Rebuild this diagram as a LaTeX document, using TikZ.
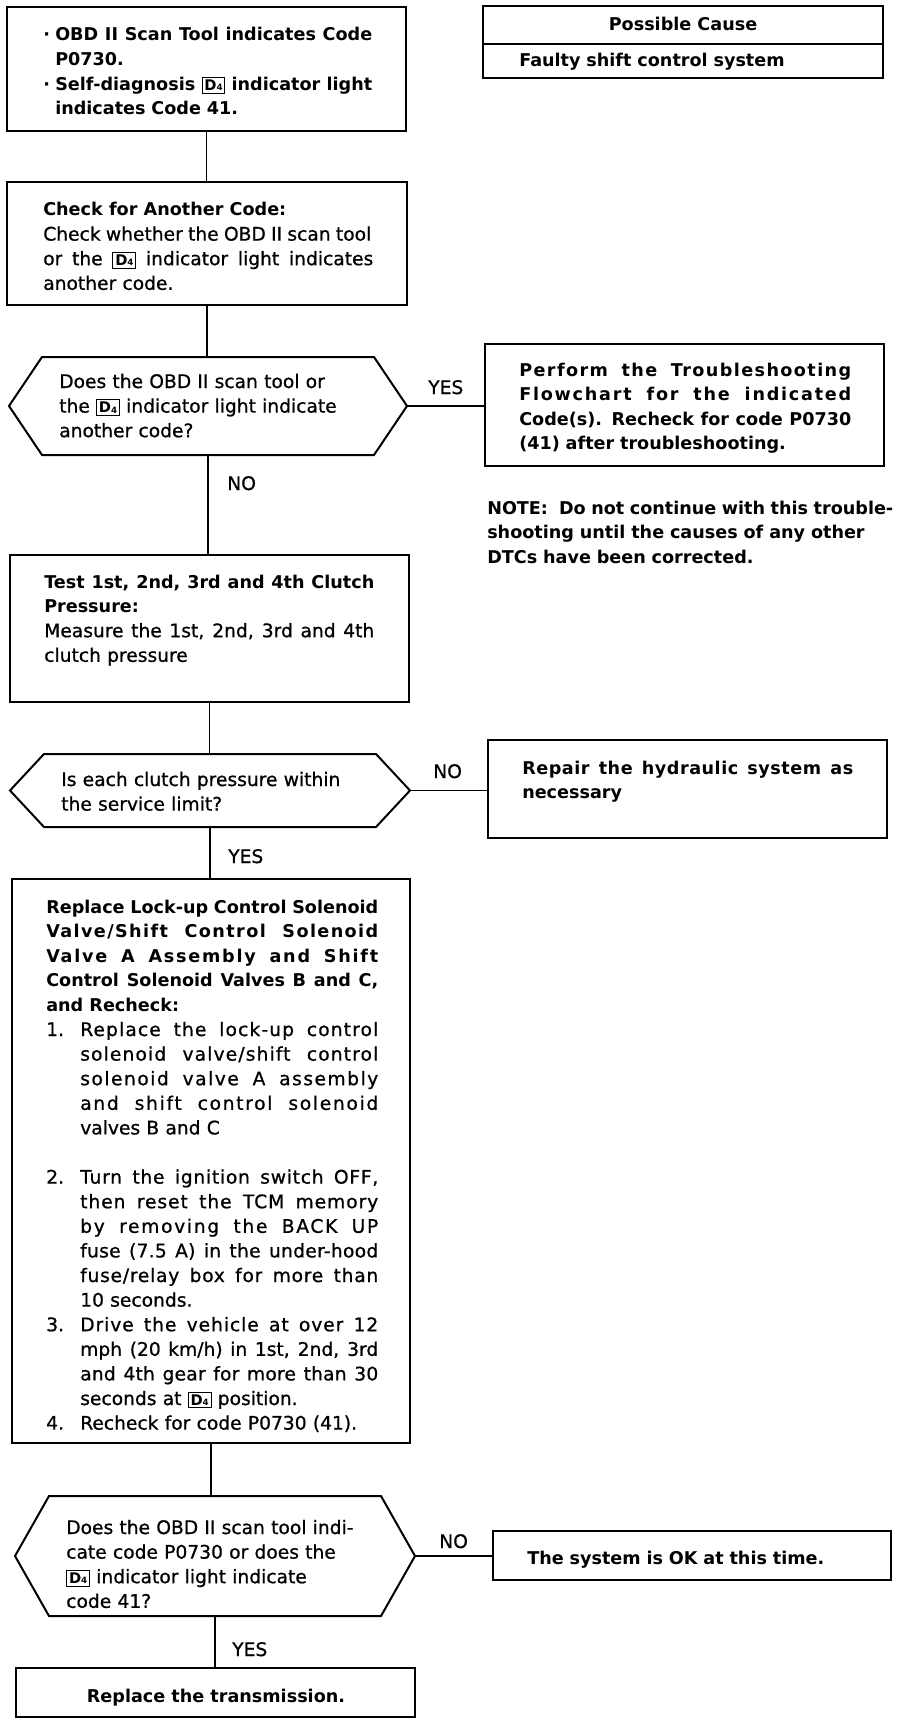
\documentclass[tikz,border=0pt]{standalone}
\usepackage{fontspec}
\setmainfont{DejaVu Sans}
\newfontfamily\medfam{DejaVu Sans}[FakeBold=0.8]
\usetikzlibrary{calc}
\newlength\pxu \setlength\pxu{0.75pt}
\newcommand\rf{\medfam\fontsize{14}{18.45}\selectfont}
\newcommand\bff{\normalfont\fontsize{13.2}{18.45}\selectfont\bfseries}
\newcommand\Dbox{{\setlength\fboxsep{1.4pt}\setlength\fboxrule{0.7pt}\fbox{\normalfont\fontsize{11}{11}\selectfont\bfseries D\raisebox{-0.4pt}{\fontsize{6.5}{6.5}\selectfont 4}}}}
\newcommand\J[2]{\makebox[#1\pxu][s]{\spaceskip=0pt\xspaceskip=0pt\relax #2}}
\newcommand\JL[3]{\makebox[#1\pxu][s]{\addfontfeature{LetterSpace=#2}\spaceskip=0pt\xspaceskip=0pt\relax #3}}
\newcommand\Nn[1]{\makebox[34\pxu][l]{#1}}
\newcommand\Ii{\hspace*{34\pxu}}
\tikzset{
  box/.style={draw, line width=1.5pt, inner sep=0pt},
  hexbase/.style={draw=none, inner sep=0pt, outer sep=0pt},
  hex/.style={line width=1.5pt, line join=miter},
  conn/.style={line width=1.4pt},
  txt/.style={inner sep=0pt, anchor=base west, align=left, text width=380\pxu, font=\rf},
  btxt/.style={txt, font=\bff},
  lbl/.style={inner sep=0pt, anchor=base west, font=\rf},
  blbl/.style={inner sep=0pt, anchor=base, font=\bff}
}
\begin{document}
\begin{tikzpicture}[x=0.75pt,y=-0.75pt]
\fill[white] (0,0) rectangle (912,1726);
\useasboundingbox (0,0) rectangle (912,1726);

% ---------- boxes ----------
\node[box, minimum width={399*0.75pt}, minimum height={124*0.75pt}] (b1) at (206.5,69) {};
\node[box, minimum width={400*0.75pt}, minimum height={123*0.75pt}] (b2) at (207,243.5) {};
\node[hexbase, minimum width={398*0.75pt}, minimum height={98*0.75pt}] (d1) at (208,406) {};
\draw[hex] (d1.west) -- ($(d1.north west)+(33,0)$) -- ($(d1.north east)+(-33,0)$) -- (d1.east)
  -- ($(d1.south east)+(-33,0)$) -- ($(d1.south west)+(33,0)$) -- cycle;
\node[box, minimum width={399*0.75pt}, minimum height={122*0.75pt}] (p1) at (684.5,405) {};
\node[box, minimum width={399*0.75pt}, minimum height={147*0.75pt}] (b3) at (209.5,628.5) {};
\node[hexbase, minimum width={400*0.75pt}, minimum height={73*0.75pt}] (d2) at (210,790.5) {};
\draw[hex] (d2.west) -- ($(d2.north west)+(34,0)$) -- ($(d2.north east)+(-34,0)$) -- (d2.east)
  -- ($(d2.south east)+(-34,0)$) -- ($(d2.south west)+(34,0)$) -- cycle;
\node[box, minimum width={399*0.75pt}, minimum height={98*0.75pt}] (r1) at (687.5,789) {};
\node[box, minimum width={398*0.75pt}, minimum height={564*0.75pt}] (b4) at (211,1161) {};
\node[hexbase, minimum width={400*0.75pt}, minimum height={120*0.75pt}] (d3) at (215,1556) {};
\draw[hex] (d3.west) -- ($(d3.north west)+(34,0)$) -- ($(d3.north east)+(-34,0)$) -- (d3.east)
  -- ($(d3.south east)+(-34,0)$) -- ($(d3.south west)+(34,0)$) -- cycle;
\node[box, minimum width={398*0.75pt}, minimum height={49*0.75pt}] (ok) at (692,1555.5) {};
\node[box, minimum width={399*0.75pt}, minimum height={49*0.75pt}] (rt) at (215.5,1692.5) {};
\node[box, minimum width={400*0.75pt}, minimum height={38*0.75pt}] (pc1) at (683,25) {};
\node[box, minimum width={400*0.75pt}, minimum height={34*0.75pt}] (pc2) at (683,61) {};

% ---------- connectors ----------
\draw[conn] (b1.south) -- (b1.south |- b2.north);
\draw[conn] (b2.south) -- (b2.south |- d1.north);
\draw[conn] (d1.east) -- (d1.east -| p1.west);
\draw[conn] (d1.south) -- (d1.south |- b3.north);
\draw[conn] (b3.south) -- (b3.south |- d2.north);
\draw[conn] (d2.east) -- (d2.east -| r1.west);
\draw[conn] (d2.south) -- (d2.south |- b4.north);
\draw[conn] (b4.south) -- (b4.south |- d3.north);
\draw[conn] (d3.east) -- (d3.east -| ok.west);
\draw[conn] (d3.south) -- (d3.south |- rt.north);

% ---------- texts ----------
\node[blbl] (pct) at (683,31) {Possible Cause};
\node[btxt] (pcf) at (519,67) {Faulty shift control system};

\node[btxt] (t1) at (43,41) {\makebox[12\pxu][l]{·}\J{317}{OBD II Scan Tool indicates Code}\\
\hspace*{12\pxu}P0730.\\
\makebox[12\pxu][l]{·}\J{317}{Self-diagnosis \Dbox\ indicator light}\\
\hspace*{12\pxu}indicates Code 41.};

\node[txt] (t2) at (43,216) {{\bff Check for Another Code:}\\
\J{328}{Check whether the OBD II scan tool}\\
\J{330}{or the \Dbox\ indicator light indicates}\\
another code.};

\node[txt] (t3) at (59,388) {Does the OBD II scan tool or\\
the \Dbox\ indicator light indicate\\
another code?};
\node[lbl] (y1) at (428,394) {YES};

\node[btxt] (t4) at (519,376) {\JL{332}{8}{Perform the Troubleshooting}\\
\JL{332}{10}{Flowchart for the indicated}\\
\J{332}{Code(s). Recheck for code P0730}\\
(41) after troubleshooting.};

\node[btxt] (t5) at (487,514) {\J{406}{NOTE:\ \ Do not continue with this trouble-}\\
shooting until the causes of any other\\
DTCs have been corrected.};

\node[lbl] (n1) at (227,490) {NO};

\node[txt] (t6) at (44,588) {{\bff\J{330}{Test 1st, 2nd, 3rd and 4th Clutch}}\\
{\bff Pressure:}\\
\J{330}{Measure the 1st, 2nd, 3rd and 4th}\\
clutch pressure};

\node[txt] (t7) at (61,786) {Is each clutch pressure within\\
the service limit?};
\node[lbl] (n2) at (433,778) {NO};

\node[btxt] (t8) at (522,774) {\JL{331}{3}{Repair the hydraulic system as}\\
necessary};
\node[lbl] (y2) at (228,863) {YES};

\node[txt] (t9) at (46,913) {{\bff\J{332}{Replace Lock-up Control Solenoid}\\
\JL{332}{8}{Valve/Shift Control Solenoid}\\
\JL{332}{10}{Valve A Assembly and Shift}\\
\J{332}{Control Solenoid Valves B and C,}\\
and Recheck:}\\
\Nn{1.}\JL{298}{6}{Replace the lock-up control}\\
\Ii\JL{298}{6}{solenoid valve/shift control}\\
\Ii\JL{298}{8}{solenoid valve A assembly}\\
\Ii\JL{298}{9}{and shift control solenoid}\\
\Ii valves B and C\\
\mbox{}\\
\Nn{2.}\JL{298}{4}{Turn the ignition switch OFF,}\\
\Ii\JL{298}{5}{then reset the TCM memory}\\
\Ii\JL{298}{9}{by removing the BACK UP}\\
\Ii\JL{298}{1.5}{fuse (7.5 A) in the under-hood}\\
\Ii\JL{298}{4}{fuse/relay box for more than}\\
\Ii 10 seconds.\\
\Nn{3.}\JL{298}{5}{Drive the vehicle at over 12}\\
\Ii\J{298}{mph (20 km/h) in 1st, 2nd, 3rd}\\
\Ii\JL{298}{1}{and 4th gear for more than 30}\\
\Ii seconds at \Dbox\ position.\\
\Nn{4.}Recheck for code P0730 (41).};

\node[txt] (t10) at (66,1534) {Does the OBD II scan tool indi-\\
cate code P0730 or does the\\
\Dbox\ indicator light indicate\\
code 41?};
\node[lbl] (n3) at (439,1548) {NO};
\node[btxt] (t11) at (527,1564) {The system is OK at this time.};
\node[lbl] (y3) at (232,1656) {YES};
\node[blbl] (rtt) at (216,1702) {Replace the transmission.};
\end{tikzpicture}
\end{document}
